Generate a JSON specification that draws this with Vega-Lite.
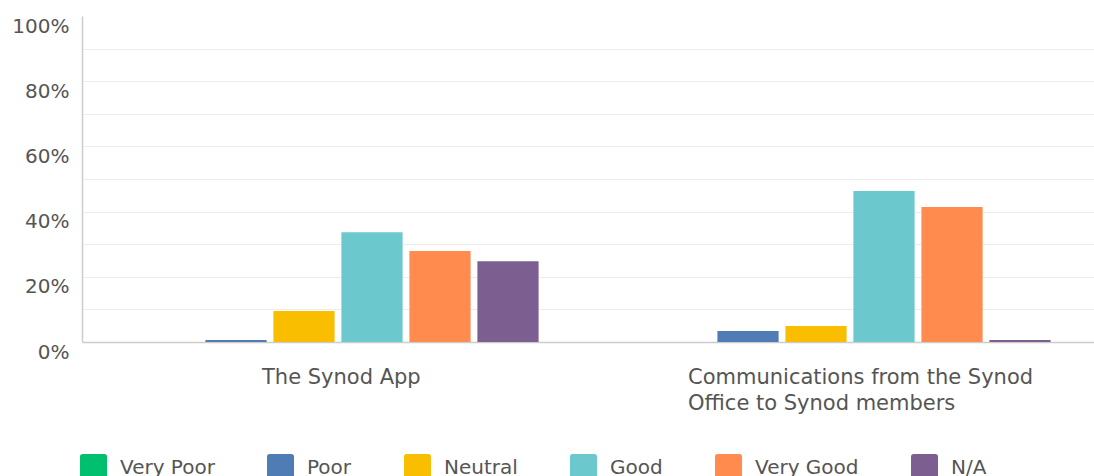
{
  "$schema": "https://vega.github.io/schema/vega-lite/v6.json",
  "width": 1012,
  "height": 326,
  "autosize": "none",
  "padding": {"left": 82, "top": 16, "right": 0, "bottom": 134},
  "background": "white",
  "config": {
    "view": {"stroke": null},
    "font": "DejaVu Sans"
  },
  "data": {
    "values": [
      {"item": "The Synod App", "rating": "Very Poor", "pct": 0},
      {"item": "The Synod App", "rating": "Poor", "pct": 0.6},
      {"item": "The Synod App", "rating": "Neutral", "pct": 9.5},
      {"item": "The Synod App", "rating": "Good", "pct": 33.7},
      {"item": "The Synod App", "rating": "Very Good", "pct": 27.9},
      {"item": "The Synod App", "rating": "N/A", "pct": 24.8},
      {"item": "Communications from the Synod Office to Synod members", "rating": "Very Poor", "pct": 0},
      {"item": "Communications from the Synod Office to Synod members", "rating": "Poor", "pct": 3.4},
      {"item": "Communications from the Synod Office to Synod members", "rating": "Neutral", "pct": 4.9},
      {"item": "Communications from the Synod Office to Synod members", "rating": "Good", "pct": 46.3},
      {"item": "Communications from the Synod Office to Synod members", "rating": "Very Good", "pct": 41.4},
      {"item": "Communications from the Synod Office to Synod members", "rating": "N/A", "pct": 0.6}
    ]
  },
  "mark": {"type": "bar"},
  "encoding": {
    "x": {
      "field": "item",
      "type": "nominal",
      "sort": ["The Synod App", "Communications from the Synod Office to Synod members"],
      "scale": {"paddingInner": 0, "paddingOuter": 0, "range": [0, 1024]},
      "axis": {
        "title": null,
        "domainColor": "#cccccc",
        "domainWidth": 1.5,
        "ticks": false,
        "tickSize": 0,
        "labelAngle": 0,
        "labelAlign": "left",
        "labelBaseline": "top",
        "labelPadding": 24,
        "labelOffset": {"condition": {"test": "datum.value == 'The Synod App'", "value": -76}, "value": -162},
        "labelExpr": "datum.value == 'The Synod App' ? datum.value : ['Communications from the Synod', 'Office to Synod members']",
        "labelLineHeight": 26,
        "labelFont": "DejaVu Sans",
        "labelFontSize": 21,
        "labelColor": "#555555",
        "labelLimit": 0,
        "labelBound": false,
        "labelOverlap": false
      }
    },
    "xOffset": {
      "field": "rating",
      "type": "nominal",
      "sort": ["Very Poor", "Poor", "Neutral", "Good", "Very Good", "N/A"],
      "scale": {"paddingInner": 0.1, "paddingOuter": 0.815}
    },
    "y": {
      "field": "pct",
      "type": "quantitative",
      "scale": {"domain": [0, 100], "nice": false},
      "axis": {
        "title": null,
        "values": [0, 10, 20, 30, 40, 50, 60, 70, 80, 90, 100],
        "labelExpr": "datum.value % 20 == 0 ? datum.value + '%' : ''",
        "domainColor": "#cccccc",
        "domainWidth": 1.5,
        "ticks": false,
        "tickSize": 0,
        "labelPadding": 13,
        "labelOffset": 10,
        "labelFont": "DejaVu Sans",
        "labelFontSize": 20,
        "labelColor": "#555555",
        "labelOverlap": false,
        "gridColor": {"condition": {"test": "datum.value >= 100 || datum.value <= 0", "value": "transparent"}, "value": "#ececec"},
        "gridWidth": 1
      }
    },
    "color": {
      "field": "rating",
      "type": "nominal",
      "sort": ["Very Poor", "Poor", "Neutral", "Good", "Very Good", "N/A"],
      "scale": {
        "domain": ["Very Poor", "Poor", "Neutral", "Good", "Very Good", "N/A"],
        "range": ["#00bf6f", "#507cb6", "#f9be00", "#6bc8cd", "#ff8b4f", "#7d5e90"]
      },
      "legend": {
        "title": null,
        "orient": "none",
        "direction": "horizontal",
        "legendX": -2,
        "legendY": 438,
        "padding": 0,
        "symbolType": "M-0.8,-1H0.8Q1,-1 1,-0.8V0.8Q1,1 0.8,1H-0.8Q-1,1 -1,0.8V-0.8Q-1,-1 -0.8,-1Z",
        "symbolSize": 729,
        "symbolStrokeWidth": 0,
        "symbolOpacity": 1,
        "labelOffset": 13,
        "columnPadding": 52,
        "labelFont": "DejaVu Sans",
        "labelFontSize": 20,
        "labelColor": "#555555",
        "labelLimit": 0
      }
    }
  }
}
